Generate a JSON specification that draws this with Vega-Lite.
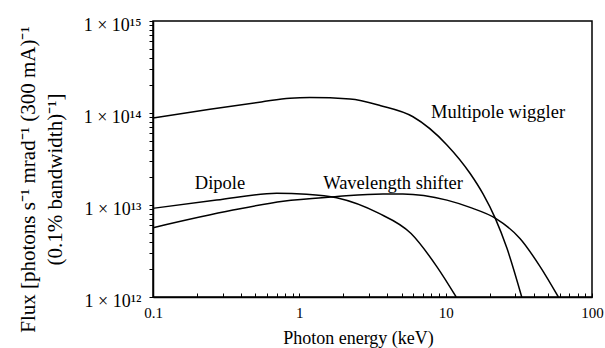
{
  "$schema": "https://vega.github.io/schema/vega-lite/v6.json",
  "autosize": {"type": "none"},
  "width": 439,
  "height": 276,
  "padding": {"left": 153, "top": 21, "right": 13, "bottom": 51},
  "background": "white",
  "config": {
    "font": "Liberation Serif",
    "view": {"stroke": "black", "strokeWidth": 1.5},
    "axis": {"grid": false, "domainColor": "black", "domainWidth": 1.5, "tickColor": "black", "labelColor": "black", "titleColor": "black", "labelFont": "Liberation Serif", "titleFont": "Liberation Serif", "titleFontWeight": "normal"}
  },
  "datasets": {
    "curves": [
      {"series": "Multipole wiggler", "energy": 0.1, "flux": 8.8e13},
      {"series": "Multipole wiggler", "energy": 0.245, "flux": 1.10e14},
      {"series": "Multipole wiggler", "energy": 0.55, "flux": 1.32e14},
      {"series": "Multipole wiggler", "energy": 0.863, "flux": 1.45e14},
      {"series": "Multipole wiggler", "energy": 1.18, "flux": 1.47e14},
      {"series": "Multipole wiggler", "energy": 2.22, "flux": 1.42e14},
      {"series": "Multipole wiggler", "energy": 3.6, "flux": 1.2e14},
      {"series": "Multipole wiggler", "energy": 5.98, "flux": 9.1e13},
      {"series": "Multipole wiggler", "energy": 10.2, "flux": 4.5e13},
      {"series": "Multipole wiggler", "energy": 14.7, "flux": 2.2e13},
      {"series": "Multipole wiggler", "energy": 18.0, "flux": 1.32e13},
      {"series": "Multipole wiggler", "energy": 21.8, "flux": 7.2e12},
      {"series": "Multipole wiggler", "energy": 26.2, "flux": 3.4e12},
      {"series": "Multipole wiggler", "energy": 33.1, "flux": 1.0e12},
      {"series": "Wavelength shifter", "energy": 0.1, "flux": 5.66e12},
      {"series": "Wavelength shifter", "energy": 0.352, "flux": 8.8e12},
      {"series": "Wavelength shifter", "energy": 0.775, "flux": 1.1e13},
      {"series": "Wavelength shifter", "energy": 1.75, "flux": 1.23e13},
      {"series": "Wavelength shifter", "energy": 3.73, "flux": 1.32e13},
      {"series": "Wavelength shifter", "energy": 5.1, "flux": 1.32e13},
      {"series": "Wavelength shifter", "energy": 10.2, "flux": 1.13e13},
      {"series": "Wavelength shifter", "energy": 15.0, "flux": 9.3e12},
      {"series": "Wavelength shifter", "energy": 21.8, "flux": 7.2e12},
      {"series": "Wavelength shifter", "energy": 32.3, "flux": 4.3e12},
      {"series": "Wavelength shifter", "energy": 44.2, "flux": 2.14e12},
      {"series": "Wavelength shifter", "energy": 58.9, "flux": 1.0e12},
      {"series": "Dipole", "energy": 0.1, "flux": 9.2e12},
      {"series": "Dipole", "energy": 0.272, "flux": 1.13e13},
      {"series": "Dipole", "energy": 0.7, "flux": 1.34e13},
      {"series": "Dipole", "energy": 1.12, "flux": 1.31e13},
      {"series": "Dipole", "energy": 1.8, "flux": 1.2e13},
      {"series": "Dipole", "energy": 3.45, "flux": 8.2e12},
      {"series": "Dipole", "energy": 5.8, "flux": 4.9e12},
      {"series": "Dipole", "energy": 8.7, "flux": 2.14e12},
      {"series": "Dipole", "energy": 11.8, "flux": 1.0e12}
    ],
    "labels": [
      {"text": "Multipole wiggler", "energy": 22.8, "flux": 1.03e14},
      {"text": "Dipole", "energy": 0.287, "flux": 1.73e13},
      {"text": "Wavelength shifter", "energy": 4.37, "flux": 1.73e13}
    ]
  },
  "layer": [
    {
      "data": {"name": "curves"},
      "mark": {"type": "line", "color": "black", "strokeWidth": 1.5, "interpolate": "monotone", "clip": true},
      "encoding": {
        "x": {
          "field": "energy", "type": "quantitative",
          "scale": {"type": "log", "domain": [0.1, 100], "nice": false},
          "axis": {
            "title": "Photon energy (keV)",
            "titleFontSize": 18,
            "titleX": 205,
            "titleY": 46,
            "titleAlign": "center",
            "titleBaseline": "alphabetic",
            "labelFontSize": 15,
            "labelPadding": 12,
            "tickSize": -4,
            "tickWidth": 1,
            "labelOverlap": false,
            "labelFlush": false,
            "values": [0.1,0.2,0.3,0.4,0.5,0.6,0.7,0.8,0.9,1,2,3,4,5,6,7,8,9,10,20,30,40,50,60,70,80,90,100],
            "labelExpr": "datum.value == 0.1 ? '0.1' : datum.value == 1 ? '1' : datum.value == 10 ? '10' : datum.value == 100 ? '100' : ''"
          }
        },
        "y": {
          "field": "flux", "type": "quantitative",
          "scale": {"type": "log", "domain": [1e12, 1e15], "nice": false},
          "axis": {
            "title": ["Flux [photons s⁻¹ mrad⁻¹ (300 mA)⁻¹", "(0.1% bandwidth)⁻¹]"],
            "titleFontSize": 21,
            "titleX": -125,
            "titleY": 158,
            "titleAlign": "center",
            "titleBaseline": "middle",
            "titleLineHeight": 27,
            "labelFontSize": 18,
            "labelPadding": 8,
            "labelOffset": 4,
            "tickSize": 4,
            "tickWidth": 1,
            "labelOverlap": false,
            "values": [1e12,2e12,3e12,4e12,5e12,6e12,7e12,8e12,9e12,1e13,2e13,3e13,4e13,5e13,6e13,7e13,8e13,9e13,1e14,2e14,3e14,4e14,5e14,6e14,7e14,8e14,9e14,1e15],
            "labelExpr": "datum.value == 1e12 ? '1 × 10¹²' : datum.value == 1e13 ? '1 × 10¹³' : datum.value == 1e14 ? '1 × 10¹⁴' : datum.value == 1e15 ? '1 × 10¹⁵' : ''"
          }
        },
        "detail": {"field": "series"}
      }
    },
    {
      "data": {"name": "labels"},
      "mark": {"type": "text", "font": "Liberation Serif", "fontSize": 18.5, "color": "black", "align": "center", "baseline": "middle"},
      "encoding": {
        "x": {"field": "energy", "type": "quantitative"},
        "y": {"field": "flux", "type": "quantitative"},
        "text": {"field": "text"}
      }
    }
  ]
}
